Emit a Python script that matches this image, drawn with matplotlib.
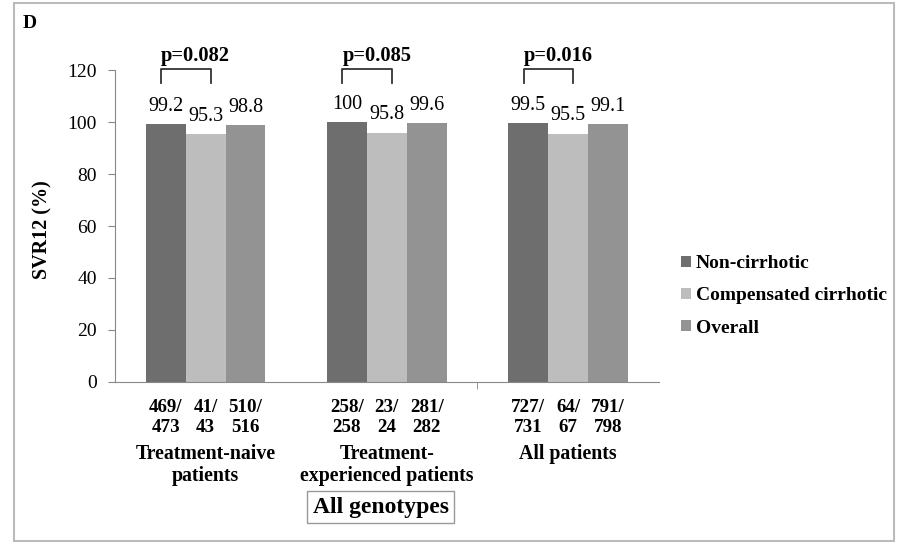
import numpy as np
import matplotlib
matplotlib.use("Agg")
import matplotlib.pyplot as plt
from matplotlib.patches import Rectangle
import matplotlib.transforms as mtransforms

plt.rcParams['font.family'] = ['Liberation Serif', 'DejaVu Serif']

# SVR12 por grupo de tratamiento
grupos = ["Treatment-naive\npatients", "Treatment-\nexperienced patients", "All patients"]
series = ["Non-cirrhotic", "Compensated cirrhotic", "Overall"]
no_cirroticos = [99.2, 100, 99.5]
cirroticos = [95.3, 95.8, 95.5]
global_ = [98.8, 99.6, 99.1]
etiq_no_cirr = ["469/\n473", "258/\n258", "727/\n731"]
etiq_cirr = ["41/\n43", "23/\n24", "64/\n67"]
etiq_global = ["510/\n516", "281/\n282", "791/\n798"]
p_valores = ["p=0.082", "p=0.085", "p=0.016"]

colores = ["#6e6e6e", "#bdbdbd", "#939393"]

fig = plt.figure(figsize=(9.06, 5.44), dpi=100)
ax = fig.add_axes([0.127, 0.298, 0.6, 0.573])

x = np.arange(len(grupos))
ancho = 0.22
valores = [no_cirroticos, cirroticos, global_]
etiquetas = [etiq_no_cirr, etiq_cirr, etiq_global]
trans = mtransforms.blended_transform_factory(ax.transData, ax.transAxes)

for k in range(3):
    pos = x + (k - 1) * ancho
    ax.bar(pos, valores[k], width=ancho, color=colores[k], label=series[k])
    for xi, v, et in zip(pos, valores[k], etiquetas[k]):
        ax.text(xi, v + 3.3, f"{v:g}", ha='center', va='bottom', fontsize=14.5)
        ax.text(xi, -0.055, et, ha='center', va='top', fontsize=13.7,
                fontweight='bold', transform=trans, linespacing=1.2)

for i, g in enumerate(grupos):
    ax.text(x[i], -0.2, g, ha='center', va='top', fontsize=14.3,
            fontweight='bold', transform=trans, linespacing=1.12)
    # corchete de comparación entre no cirróticos y cirróticos
    x0, x1 = x[i] - 0.245, x[i] + 0.03
    ax.plot([x0, x0, x1, x1], [115, 120.3, 120.3, 115], color='#333333',
            lw=1.3, clip_on=False)
    ax.text(x0, 121.8, p_valores[i], ha='left', va='bottom', fontsize=14.8,
            fontweight='bold')

ax.set_xlim(-0.5, 2.5)
ax.set_ylim(0, 120)
ax.set_yticks(range(0, 121, 20))
ax.set_xticks([])
ax.set_xticks([1.5], minor=True)
ax.tick_params(axis='x', which='minor', length=5, color='#888888', labelbottom=False)
ax.tick_params(axis='y', length=5, color='#888888', labelsize=14, pad=8)
for s in ['top', 'right']:
    ax.spines[s].set_visible(False)
for s in ['left', 'bottom']:
    ax.spines[s].set_color('#888888')
ax.set_ylabel("SVR12 (%)", fontsize=14.5, fontweight='bold')
ax.yaxis.set_label_coords(-0.116, 0.49)

fig.legend(loc='center left', bbox_to_anchor=(0.741, 0.456), frameon=False,
           handlelength=0.5, handleheight=0.5, handletextpad=0.25,
           labelspacing=0.78, borderpad=0, prop={'size': 14, 'weight': 'bold'})

fig.text(0.42, 0.068, "All genotypes", ha='center', va='center', fontsize=17,
         fontweight='bold',
         bbox=dict(boxstyle='square,pad=0.25', fc='white', ec='#999999', lw=1))
fig.text(0.025, 0.972, "D", ha='left', va='top', fontsize=14, fontweight='bold')

fig.patches.append(Rectangle((0.015, 0.006), 0.972, 0.988, transform=fig.transFigure,
                             fill=False, ec='#bbbbbb', lw=1.5))

fig.savefig("out.png", dpi=100)
